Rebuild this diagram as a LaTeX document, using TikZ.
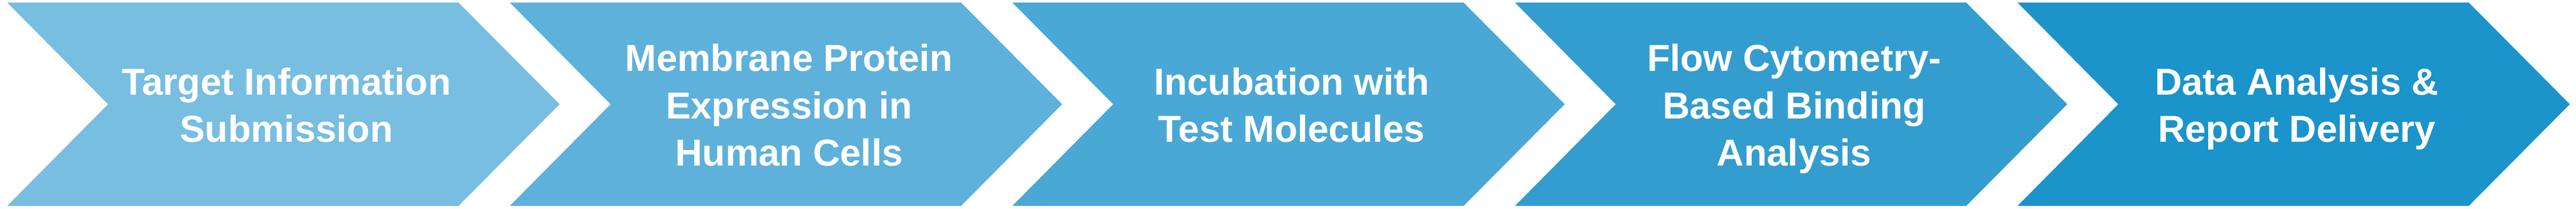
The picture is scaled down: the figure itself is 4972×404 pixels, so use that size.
\documentclass[tikz,border=0pt]{standalone}
\usepackage{fontspec}
\newfontfamily\arialfont{Liberation Sans}
\definecolor{cA}{RGB}{119,190,225}
\definecolor{cB}{RGB}{94,177,218}
\definecolor{cC}{RGB}{73,168,213}
\definecolor{cD}{RGB}{51,157,207}
\definecolor{cE}{RGB}{27,147,203}
\tikzset{
  steplabel/.style={text=white, align=center, inner sep=0pt,
    font=\arialfont\bfseries\fontsize{72.5}{91.5}\selectfont},
}
\newcommand{\chevronshape}[2]{%
  \fill[#2] (#1,399) -- ++(871,0) -- ++(195,-196.5) -- ++(-195,-196.5) -- ++(-871,0) -- ++(194.5,196.5) -- cycle;}
\begin{document}
\begin{tikzpicture}[x=1pt,y=1pt]
\useasboundingbox (0,0) rectangle (4972,404);
\fill[white] (0,0) rectangle (4972,404);
\chevronshape{14}{cA}
\chevronshape{984}{cB}
\chevronshape{1954}{cC}
\chevronshape{2924}{cD}
\chevronshape{3894}{cE}
\node[steplabel] (t1) at (553,193.5) {\vphantom{Tf}Target Information\\Submission\vphantom{y}};
\node[steplabel] (t2) at (1523,193.5) {\vphantom{Tf}Membrane Protein\\Expression in\\Human Cells\vphantom{y}};
\node[steplabel] (t3) at (2493,193.5) {\vphantom{Tf}Incubation with\\Test Molecules\vphantom{y}};
\node[steplabel] (t4) at (3463,193.5) {\vphantom{Tf}Flow Cytometry-\\Based Binding\\Analysis\vphantom{y}};
\node[steplabel] (t5) at (4433,193.5) {\vphantom{Tf}Data Analysis \&\\Report Delivery\vphantom{y}};
\end{tikzpicture}
\end{document}
